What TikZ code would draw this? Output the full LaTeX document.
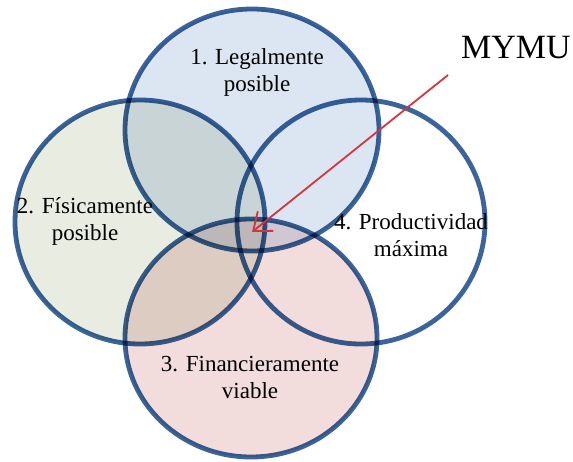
\documentclass[tikz,border=0pt]{standalone}
\usepackage{fontspec}
\setmainfont{Liberation Serif}
\usetikzlibrary{arrows.meta}

\definecolor{ringblue}{RGB}{58,100,155}
\definecolor{legalfill}{RGB}{220,230,243}
\definecolor{fisfill}{RGB}{233,236,225}
\definecolor{finfill}{RGB}{242,221,220}
\definecolor{arrowred}{RGB}{214,52,60}

\begin{document}
\begin{tikzpicture}[x=1pt, y=-1pt,
  ring/.style={draw=ringblue, line width=4.8pt},
  tag/.style={align=center, font=\fontsize{23}{27}\selectfont, inner sep=0pt}]
  \useasboundingbox (0,0) rectangle (573,461);

  % Four rings, multiplied so that the overlaps darken
  \begin{scope}[blend mode=multiply]
    \draw[ring, fill=legalfill] (252,130) ellipse [x radius=127pt, y radius=121pt];
    \draw[ring, fill=fisfill] (140,222) ellipse [x radius=125pt, y radius=122pt];
    \draw[ring] (361,222) ellipse [x radius=124pt, y radius=122pt];
    \draw[ring, fill=finfill] (251,338) ellipse [x radius=126pt, y radius=119pt];
  \end{scope}

  % Ring labels
  \node[tag] (legal) at (257,72) {1. Legalmente\\posible};
  \node[tag] (fisica) at (85,221) {2. Físicamente\\posible};
  \node[tag] (prod) at (411,235) {4. Productividad\\máxima};
  \node[tag] (finan) at (250,377) {3. Financieramente\\viable};

  % Pointer to the common core
  \node[font=\fontsize{34}{40}\selectfont, inner sep=0pt] (mymu) at (516,48) {MYMU};
  \coordinate (tail) at (448,75);
  \coordinate (core) at (252,232);
  \draw[arrowred, line width=1.8pt, -{Straight Barb[length=16pt, width=25pt]}] (tail) -- (core);
\end{tikzpicture}
\end{document}
